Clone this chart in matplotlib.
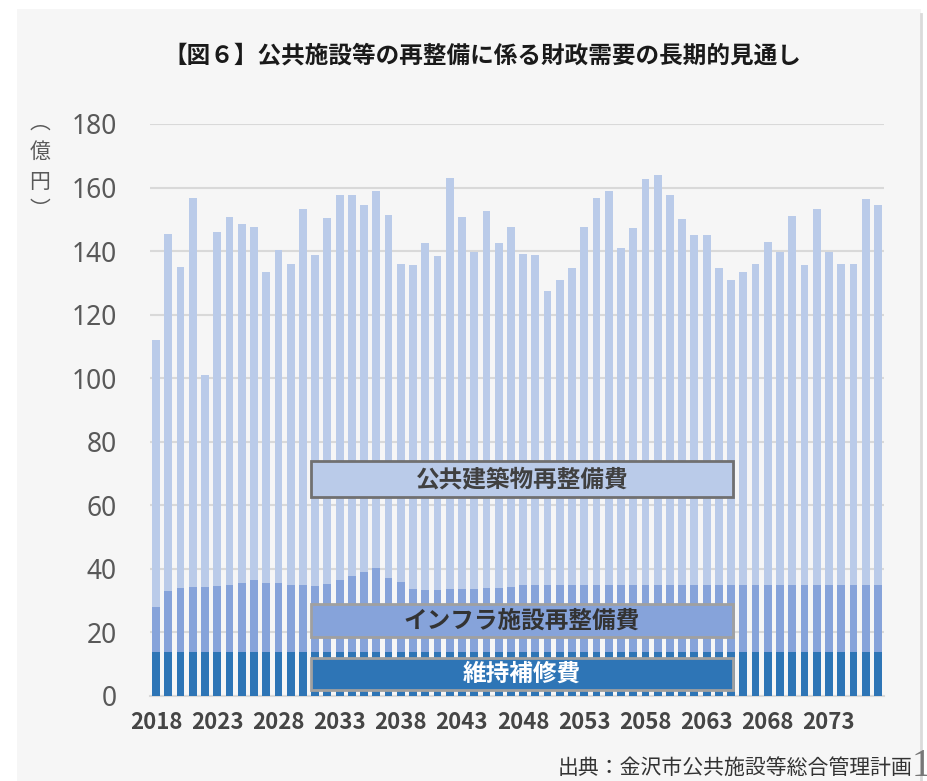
import matplotlib
matplotlib.use("Agg")
import matplotlib.pyplot as plt
from matplotlib.patches import Rectangle
import numpy as np

plt.rcParams['font.family'] = ['Noto Sans CJK JP', 'DejaVu Sans']

years = list(range(2018, 2078))

maintenance = [
    13.7, 13.7, 13.7, 13.7, 13.7, 13.7, 13.7, 13.7, 13.7, 13.7,
    13.7, 13.7, 13.7, 13.7, 13.7, 13.7, 13.7, 13.7, 13.7, 13.7,
    13.7, 13.7, 13.7, 13.7, 13.7, 13.7, 13.7, 13.7, 13.7, 13.7,
    13.7, 13.7, 13.7, 13.7, 13.7, 13.7, 13.7, 13.7, 13.7, 13.7,
    13.7, 13.7, 13.7, 13.7, 13.7, 13.7, 13.7, 13.7, 13.7, 13.7,
    13.7, 13.7, 13.7, 13.7, 13.7, 13.7, 13.7, 13.7, 13.7, 13.7,
]

infra = [
    14.4, 19.4, 20.2, 20.7, 20.7, 20.9, 21.3, 21.9, 22.7, 22.0,
    21.9, 21.3, 21.3, 21.0, 21.5, 22.8, 24.0, 25.3, 26.5, 23.4,
    22.2, 19.9, 19.5, 19.6, 19.9, 19.9, 20.1, 20.3, 20.3, 20.7,
    21.1, 21.3, 21.3, 21.3, 21.3, 21.3, 21.3, 21.3, 21.3, 21.3,
    21.3, 21.3, 21.3, 21.3, 21.3, 21.3, 21.3, 21.3, 21.3, 21.3,
    21.3, 21.3, 21.3, 21.3, 21.3, 21.3, 21.3, 21.3, 21.3, 21.3,
]

buildings = [
    83.9, 112.2, 101.2, 122.3, 66.7, 111.5, 115.6, 112.8, 111.2, 97.6,
    104.9, 100.9, 118.4, 104.2, 115.1, 121.3, 120.1, 115.4, 118.6, 114.3,
    100.2, 102.1, 109.5, 105.3, 129.3, 117.1, 105.8, 118.7, 108.5, 113.2,
    104.2, 103.9, 92.4, 95.8, 99.6, 112.6, 121.7, 124.0, 106.1, 112.3,
    127.6, 128.8, 122.8, 115.1, 110.0, 110.2, 99.7, 95.9, 98.5, 100.9,
    108.0, 104.7, 115.9, 100.6, 118.2, 104.6, 100.9, 100.9, 121.4, 119.5,
]

series_labels = ['維持補修費', 'インフラ施設再整備費', '公共建築物再整備費']
tick_years = list(range(2018, 2078, 5))
y_ticks = [0, 20, 40, 60, 80, 100, 120, 140, 160, 180]

c_dark = '#2E75B6'
c_mid = '#86A3DA'
c_light = '#BACBE9'
bg = '#F6F6F6'

W, H = 928, 781
fig = plt.figure(figsize=(W / 100, H / 100), dpi=100, facecolor='white')

def fx(x):
    return x / W

def fy(y):
    return 1 - y / H

# panel background
fig.patches.append(Rectangle((fx(17), 0), fx(921) - fx(17), fy(9), transform=fig.transFigure,
                             facecolor=bg, edgecolor='none', zorder=-10))
fig.add_artist(plt.Line2D([fx(921), fx(921)], [0, fy(14)], transform=fig.transFigure,
                          color='#DADADA', lw=2))

ax = fig.add_axes([fx(150), fy(696), fx(884) - fx(150), fy(124) - fy(696)])
ax.set_facecolor(bg)

x = np.arange(len(years))
m = np.array(maintenance)
i_ = np.array(infra)
b = np.array(buildings)
w = 0.64
ax.bar(x, m, width=w, color=c_dark, zorder=3)
ax.bar(x, i_, width=w, bottom=m, color=c_mid, zorder=3)
ax.bar(x, b, width=w, bottom=m + i_, color=c_light, zorder=3)

ax.set_xlim(-0.5, len(years) - 0.5)
ax.set_ylim(0, 180)
ax.set_yticks(y_ticks)
ax.set_yticklabels([str(v) for v in y_ticks], fontsize=19, color='#595959',
                   family=['Noto Sans', 'DejaVu Sans'])
ax.set_xticks([years.index(t) for t in tick_years])
ax.set_xticklabels([str(t) for t in tick_years], fontsize=16, fontweight='bold', color='#454545')
ax.tick_params(axis='y', length=0, pad=24)
ax.tick_params(axis='x', length=0, pad=11)
ax.grid(axis='y', color='#D9D9D9', lw=1.5, zorder=0)
for s in ['top', 'right', 'left']:
    ax.spines[s].set_visible(False)
ax.spines['bottom'].set_color('#D9D9D9')
ax.spines['bottom'].set_linewidth(1.5)

# title
fig.text(fx(482), fy(56), '【図６】公共施設等の再整備に係る財政需要の長期的見通し',
         ha='center', va='center', fontsize=17, fontweight='bold', color='#1a1a1a')

# y-axis unit label (vertical, using vertical-form brackets)
fig.text(fx(40), fy(134), '︵', ha='center', va='bottom', fontsize=15, color='#595959')
fig.text(fx(40), fy(152), '億', ha='center', va='center', fontsize=15, color='#595959')
fig.text(fx(40), fy(182), '円', ha='center', va='center', fontsize=15, color='#595959')
fig.text(fx(40), fy(199), '︶', ha='center', va='top', fontsize=15, color='#595959')

# series label boxes
boxes = [
    (series_labels[2], 461, 497, c_light, '#707070', '#404040'),
    (series_labels[1], 604, 637, c_mid, '#A0A0A0', '#333333'),
    (series_labels[0], 658, 690, c_dark, '#A0A0A0', 'white'),
]
for label, y0, y1, fc, ec, tc in boxes:
    fig.patches.append(Rectangle((fx(311), fy(y1)), fx(733) - fx(311), fy(y0) - fy(y1),
                                 transform=fig.transFigure, facecolor=fc, edgecolor=ec,
                                 lw=2, zorder=5))
    fig.text(fx(522), fy((y0 + y1) / 2), label, ha='center', va='center',
             fontsize=17, fontweight='bold', color=tc, zorder=6)

# source
fig.text(fx(913), fy(768), '出典：金沢市公共施設等総合管理計画', ha='right', va='center',
         fontsize=15, color='#333333')
fig.text(fx(912), fy(766), '1', ha='left', va='center', fontsize=28, color='#777777',
         family=['Liberation Serif', 'DejaVu Serif'])

fig.savefig('out.png', dpi=100, facecolor='white')
